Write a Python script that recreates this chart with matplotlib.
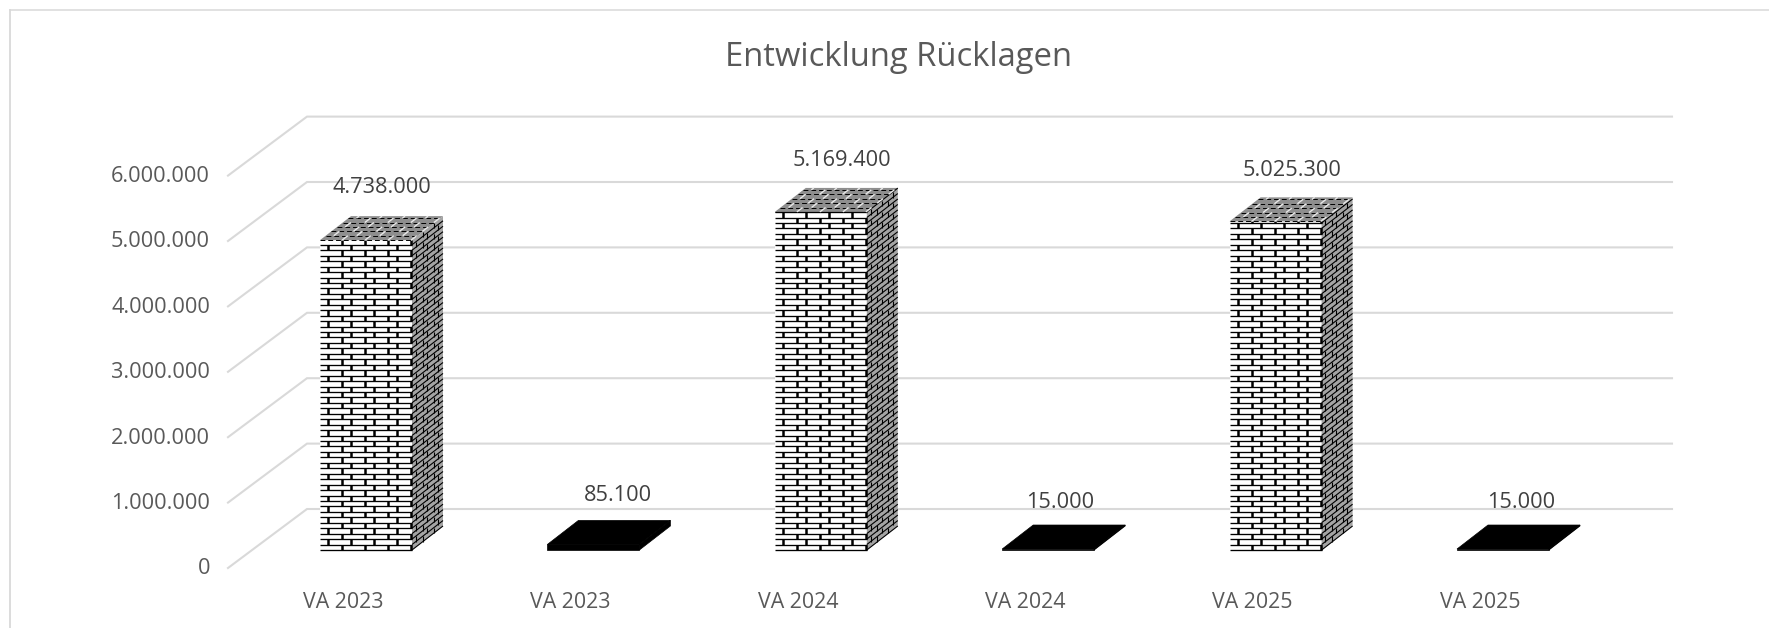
# Entwicklung Ruecklagen - pseudo 3D column chart with brick pattern
import matplotlib
matplotlib.use('Agg')
import matplotlib.pyplot as plt
from matplotlib.collections import LineCollection
from matplotlib.lines import Line2D
from matplotlib.patches import Polygon

plt.rcParams['font.family'] = ['Open Sans', 'DejaVu Sans']

categories = ['VA 2023', 'VA 2023', 'VA 2024', 'VA 2024', 'VA 2025', 'VA 2025']
values = [4738000, 85100, 5169400, 15000, 5025300, 15000]
value_labels = ['4.738.000', '85.100', '5.169.400', '15.000', '5.025.300', '15.000']
is_brick = [True, False, True, False, True, False]
y_ticks = [0, 1000000, 2000000, 3000000, 4000000, 5000000, 6000000]
y_tick_labels = ['0', '1.000.000', '2.000.000', '3.000.000', '4.000.000', '5.000.000', '6.000.000']

W, H = 1769, 628
PX_PER_CAT = 227.4
PX_PER_VAL = 65.4 / 1e6
X0_PX, Y0_PX = 366, 550  # centre of first bar, base of the bars

GRID = '#D9D9D9'
TEXT = '#595959'

fig = plt.figure(figsize=(W / 100, H / 100), dpi=100, facecolor='white')
ax = fig.add_axes([0, 0, 1, 1])
ax.set_xlim(-X0_PX / PX_PER_CAT, (W - X0_PX) / PX_PER_CAT)
ax.set_ylim((Y0_PX - H) / PX_PER_VAL, Y0_PX / PX_PER_VAL)
ax.axis('off')


def px_x(n):
    return n / PX_PER_CAT


def px_y(n):
    return n / PX_PER_VAL


def brick_segments(origin, e_u, e_v, len_u, len_v, row, col):
    # brick joints of a face, u along the rows, v across them, all in pixels
    def pt(u, v):
        return (origin[0] + px_x(u * e_u[0] + v * e_v[0]),
                origin[1] + px_y(u * e_u[1] + v * e_v[1]))
    flat, joints = [], []
    k = 0
    while k * row < len_v:
        v0 = k * row
        v1 = min(v0 + row, len_v)
        flat.append([pt(0, v0), pt(len_u, v0)])
        u = col * 0.96 if k % 2 == 0 else col * 0.35
        while u < len_u:
            joints.append([pt(u, v0), pt(u, v1)])
            u += col
        k += 1
    return flat, joints


# frame of the chart area
fig.add_artist(Line2D([10 / W, 10 / W], [0, 1 - 10 / H], color=GRID, lw=1.3))
fig.add_artist(Line2D([10 / W, 1], [1 - 10 / H, 1 - 10 / H], color=GRID, lw=1.1))

# walls: gridlines along floor side and back
wall_x = (307 - X0_PX) / PX_PER_CAT
front_x = (228 - X0_PX) / PX_PER_CAT
end_x = (1672 - X0_PX) / PX_PER_CAT
back_y = px_y(Y0_PX - 509)
front_y = px_y(Y0_PX - 568)
for tick, lab in zip(y_ticks, y_tick_labels):
    ax.plot([front_x, wall_x, end_x], [tick + front_y, tick + back_y, tick + back_y],
            color=GRID, lw=1.5, zorder=1, solid_joinstyle='miter')
    ax.text(front_x - px_x(18), tick + front_y - px_y(1), lab, ha='right', va='center',
            fontsize=15.7, color=TEXT, zorder=5)

bar_w = 92
dx, dy = 31, 24
label_dx = [16, 25, 21, 12, 16, 18]
label_dy = [29, 25, 27, 23, 27, 23]

for i, (val, lab, cat) in enumerate(zip(values, value_labels, categories)):
    left = i - px_x(bar_w / 2)
    right = i + px_x(bar_w / 2)
    front = [(left, 0), (right, 0), (right, val), (left, val)]
    side = [(right, 0), (right + px_x(dx), px_y(dy)), (right + px_x(dx), val + px_y(dy)), (right, val)]
    top = [(left, val), (right, val), (right + px_x(dx), val + px_y(dy)), (left + px_x(dx), val + px_y(dy))]

    if is_brick[i]:
        ax.add_patch(Polygon(front, fc='white', ec='none', zorder=2))
        ax.add_patch(Polygon(side, fc='#a4a4a4', ec='none', zorder=2))
        ax.add_patch(Polygon(top, fc='#8e8e8e', ec='none', zorder=2))

        h_px = val * PX_PER_VAL
        # front face
        flat, joints = brick_segments((left, 0), (1, 0), (0, 1), bar_w, h_px, 5.45, 23)
        ax.add_collection(LineCollection(flat, colors='black', lw=0.95, zorder=3))
        ax.add_collection(LineCollection(joints, colors='black', lw=1.8, zorder=3))
        # side face, rows run backwards along the depth
        flat, joints = brick_segments((right, 0), (dx / 31, dy / 31), (0, 1), 31, h_px, 5.45, 11)
        ax.add_collection(LineCollection(flat, colors='black', lw=0.8, zorder=3))
        ax.add_collection(LineCollection(joints, colors='black', lw=0.8, zorder=3))
        # top face
        flat, joints = brick_segments((left, val), (1, 0), (dx / 24, 1), bar_w, 24, 4.4, 23)
        ax.add_collection(LineCollection(flat, colors='black', lw=0.7, linestyles=(0, (5, 3)), zorder=3))
        ax.add_collection(LineCollection(joints, colors='#e8e8e8', lw=1.0, zorder=3))
    else:
        for poly in (front, side, top):
            ax.add_patch(Polygon(poly, fc='black', ec='black', lw=0.5, zorder=2))

    ax.text(i + px_x(label_dx[i]), val + px_y(dy + label_dy[i]), lab, ha='center', va='center',
            fontsize=15.7, color='#404040', zorder=5)
    ax.text(i - px_x(23), px_y(Y0_PX - 602), cat, ha='center', va='center',
            fontsize=15.4, color=TEXT, zorder=5)

fig.text(898 / W, 1 - 57 / H, 'Entwicklung Rücklagen', ha='center', va='center',
         fontsize=23.6, color=TEXT)

fig.savefig('out.png', dpi=100)
